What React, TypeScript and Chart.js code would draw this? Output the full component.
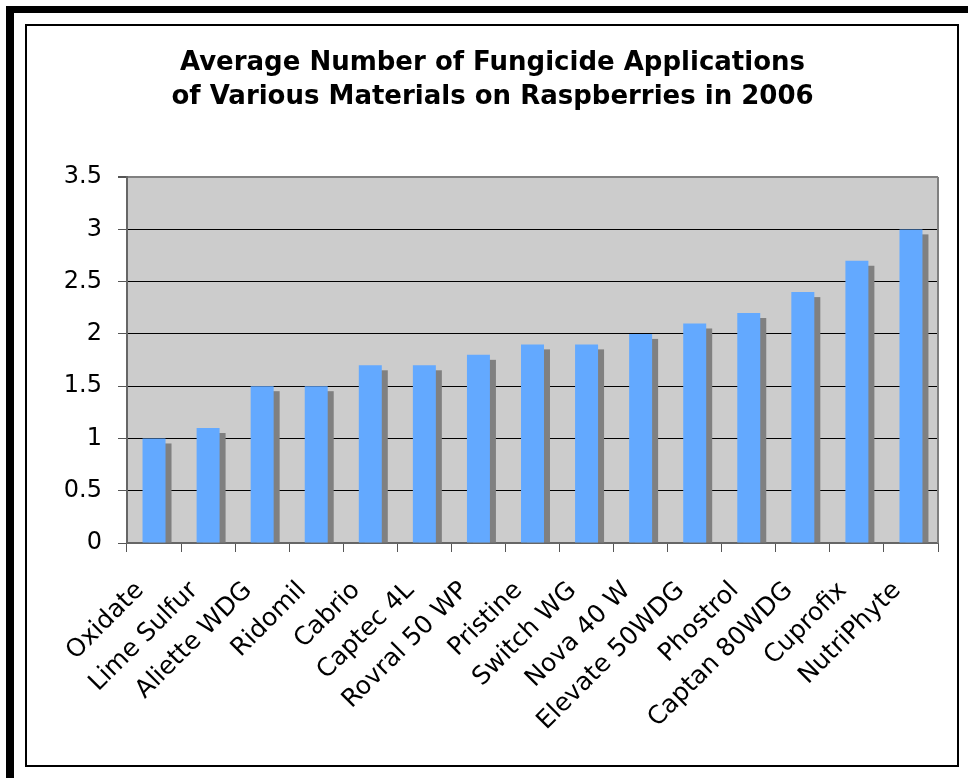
import React, { useEffect, useRef } from "react";
import { Chart, registerables } from "chart.js";

Chart.register(...registerables);

const titleLines = [
  "Average Number of Fungicide Applications",
  "of Various Materials on Raspberries in 2006",
];

const categories = [
  "Oxidate",
  "Lime Sulfur",
  "Aliette WDG",
  "Ridomil",
  "Cabrio",
  "Captec 4L",
  "Rovral 50 WP",
  "Pristine",
  "Switch WG",
  "Nova 40 W",
  "Elevate 50WDG",
  "Phostrol",
  "Captan 80WDG",
  "Cuprofix",
  "NutriPhyte",
];

const applications = [1.0, 1.1, 1.5, 1.5, 1.7, 1.7, 1.8, 1.9, 1.9, 2.0, 2.1, 2.2, 2.4, 2.7, 3.0];

const yTickValues = [0, 0.5, 1, 1.5, 2, 2.5, 3, 3.5];
const yTickLabels = ["0", "0.5", "1", "1.5", "2", "2.5", "3", "3.5"];

const FONT = "'DejaVu Sans', Verdana, sans-serif";

const plotPlugin = {
  id: "plotDecor",
  beforeDraw(chart: any) {
    const { ctx, chartArea: a } = chart;
    ctx.save();
    ctx.fillStyle = "#cccccc";
    ctx.fillRect(a.left, a.top, a.right - a.left, a.bottom - a.top);
    ctx.restore();
  },
  beforeDatasetsDraw(chart: any) {
    const { ctx, chartArea: a } = chart;
    const meta = chart.getDatasetMeta(0);
    ctx.save();
    ctx.beginPath();
    ctx.rect(a.left, a.top, a.right - a.left, a.bottom - a.top);
    ctx.clip();
    ctx.fillStyle = "#808080";
    meta.data.forEach((el: any) => {
      const { x, y, base, width } = el.getProps(["x", "y", "base", "width"], true);
      ctx.fillRect(x - width / 2 + 6, y + 5, width, base - y - 5);
    });
    ctx.restore();
  },
  afterDatasetsDraw(chart: any) {
    const { ctx, chartArea: a } = chart;
    ctx.save();
    ctx.strokeStyle = "#808080";
    ctx.lineWidth = 2;
    ctx.beginPath();
    ctx.moveTo(a.right, a.top);
    ctx.lineTo(a.right, a.bottom);
    ctx.stroke();
    ctx.restore();
  },
};

function BarChart() {
  const ref = useRef<HTMLCanvasElement | null>(null);
  useEffect(() => {
    if (!ref.current) return;
    const chart = new Chart(ref.current, {
      type: "bar",
      data: {
        labels: categories,
        datasets: [
          {
            data: applications,
            backgroundColor: "#63a9ff",
            borderWidth: 0,
            categoryPercentage: 1,
            barPercentage: 0.425,
          },
        ],
      },
      options: {
        responsive: false,
        animation: false,
        devicePixelRatio: 1,
        layout: { padding: { top: 46, left: 47, right: 30, bottom: 35 } },
        plugins: {
          legend: { display: false },
          tooltip: { enabled: false },
          title: {
            display: true,
            text: titleLines,
            color: "#000",
            font: { family: FONT, size: 26, weight: "bold", lineHeight: 1.31 },
            padding: { top: 0, bottom: 63 },
          },
        },
        scales: {
          x: {
            afterFit(scale: any) {
              scale.height = 200;
            },
            grid: {
              display: true,
              drawOnChartArea: false,
              drawTicks: true,
              tickLength: 9,
              tickColor: "#555",
              offset: true,
            },
            border: { display: true, color: "#666", width: 2 },
            ticks: {
              autoSkip: false,
              minRotation: 45,
              maxRotation: 45,
              padding: 24,
              labelOffset: -14,
              color: "#000",
              font: { family: FONT, size: 25 },
            },
          },
          y: {
            min: 0,
            max: 3.5,
            afterFit(scale: any) {
              scale.width = 80;
            },
            afterBuildTicks(scale: any) {
              scale.ticks = yTickValues.map((v) => ({ value: v }));
            },
            grid: {
              color: (c: any) => (c.tick && c.tick.value === 3.5 ? "#808080" : "#000"),
              lineWidth: (c: any) => (c.tick && c.tick.value === 3.5 ? 2 : 1),
              drawTicks: true,
              tickLength: 9,
              tickColor: "#555",
            },
            border: { display: true, color: "#666", width: 2 },
            ticks: {
              padding: 16,
              color: "#000",
              font: { family: FONT, size: 24 },
              callback: (v: any) => {
                const i = yTickValues.indexOf(Number(v));
                return i >= 0 ? yTickLabels[i] : String(v);
              },
            },
          },
        },
      },
      plugins: [plotPlugin],
    } as any);
    return () => chart.destroy();
  }, []);
  return (
    <canvas
      ref={ref}
      width={968}
      height={778}
      style={{ position: "absolute", left: 0, top: 0, width: 968, height: 778 }}
    />
  );
}

export default function App() {
  return (
    <div style={{ position: "absolute", left: 0, top: 0, width: 968, height: 778, background: "#fff", overflow: "hidden" }}>
      <div style={{ position: "absolute", left: 6, top: 6, width: 962, height: 7, background: "#000" }} />
      <div style={{ position: "absolute", left: 6, top: 6, width: 8, height: 772, background: "#000" }} />
      <div
        style={{
          position: "absolute",
          left: 25,
          top: 24,
          width: 934,
          height: 743,
          border: "2px solid #000",
          boxSizing: "border-box",
        }}
      />
      <BarChart />
    </div>
  );
}
